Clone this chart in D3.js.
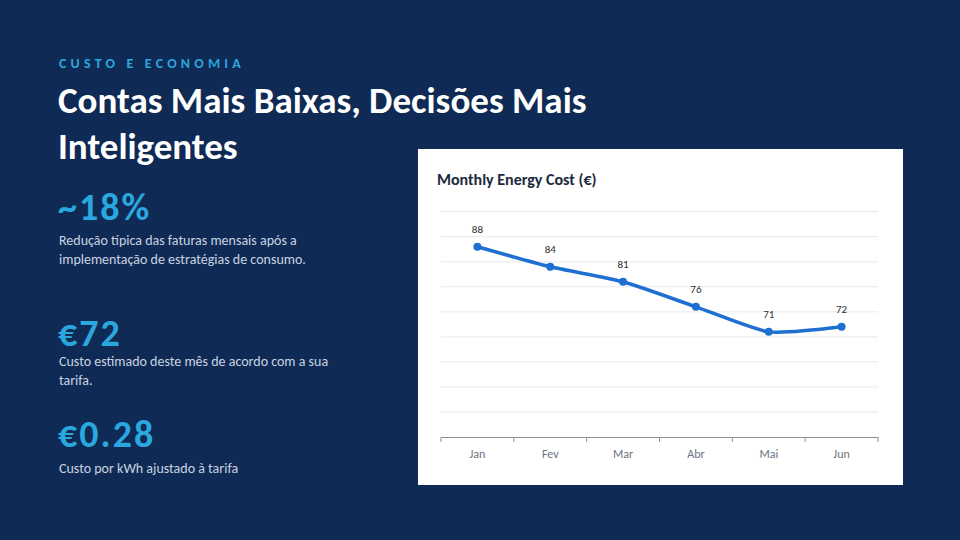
<!DOCTYPE html>
<html><head><meta charset="utf-8">
<script src="https://cdn.jsdelivr.net/npm/d3@7"></script>
<style>
body{margin:0;background:#0f2a54;}
svg{display:block;font-family:Calibri,Carlito,"Open Sans",sans-serif;}
</style></head>
<body><svg id="s" width="960" height="540"></svg>
<script>
"use strict";

let months = ['Jan', 'Fev', 'Mar', 'Abr', 'Mai', 'Jun'];
let costs = [88, 84, 81, 76, 71, 72];
let yTicks = [50, 55, 60, 65, 70, 75, 80, 85, 90, 95];

let svg = d3.select('#s');
svg.append('rect').attr('width', 960).attr('height', 540).attr('fill', '#0f2a54');

// left text block
svg.append('text').attr('x', 59).attr('y', 68).text('CUSTO E ECONOMIA')
  .attr('fill', '#2aa7de').attr('font-size', 14).attr('font-weight', 700).attr('letter-spacing', 4.2);
svg.append('text').attr('x', 58).attr('y', 113).text('Contas Mais Baixas, Decisões Mais')
  .attr('fill', '#fff').attr('font-size', 37).attr('font-weight', 700);
svg.append('text').attr('x', 58).attr('y', 159).text('Inteligentes')
  .attr('fill', '#fff').attr('font-size', 37).attr('font-weight', 700);

let stats = [
  { big: '~18%', y: 220, lines: ['Redução típica das faturas mensais após a', 'implementação de estratégias de consumo.'], ly: 245 },
  { big: '€72', y: 346, lines: ['Custo estimado deste mês de acordo com a sua', 'tarifa.'], ly: 366 },
  { big: '€0.28', y: 447, lines: ['Custo por kWh ajustado à tarifa'], ly: 473 },
];
stats.forEach((s) => {
  svg.append('text').attr('x', 58).attr('y', s.y).text(s.big)
    .attr('fill', '#2aa7de').attr('font-size', 38).attr('font-weight', 700).attr('letter-spacing', 2);
  s.lines.forEach((l, i) => {
    svg.append('text').attr('x', 59).attr('y', s.ly + i * 19).text(l)
      .attr('fill', '#c9d3e0').attr('font-size', 14);
  });
});

// chart panel
svg.append('rect').attr('x', 418).attr('y', 149).attr('width', 485).attr('height', 336).attr('fill', '#fff');
svg.append('text').attr('x', 437).attr('y', 185).text('Monthly Energy Cost (€)')
  .attr('fill', '#1b2a3d').attr('font-size', 16).attr('font-weight', 700);

let x = d3.scaleBand().domain(months).range([441, 878]);
let y = d3.scaleLinear().domain([50, 95]).range([437, 211.7]);

let g = svg.append('g');
g.selectAll('line.grid').data(yTicks.slice(1)).enter().append('line')
  .attr('x1', 441).attr('x2', 878).attr('y1', (d) => y(d)).attr('y2', (d) => y(d))
  .attr('stroke', '#e6e9ee').attr('stroke-width', 1);

let xAxis = g.append('g').attr('transform', 'translate(0,437)')
  .call(d3.axisBottom(x).tickSize(0).tickPadding(12));
xAxis.select('.domain').attr('stroke', '#8a8f96');
xAxis.selectAll('text').attr('fill', '#6b7280').attr('font-size', 12)
  .attr('font-family', 'Calibri,Carlito,"Open Sans",sans-serif');
// boundary ticks
xAxis.selectAll('line.b').data(d3.range(months.length + 1)).enter().append('line')
  .attr('x1', (i) => 441 + i * x.bandwidth()).attr('x2', (i) => 441 + i * x.bandwidth())
  .attr('y1', 0).attr('y2', 5).attr('stroke', '#8a8f96');

let pts = months.map((m, i) => [x(m) + x.bandwidth() / 2, y(costs[i])]);
g.append('path').attr('d', d3.line().curve(d3.curveCardinal.tension(0.4))(pts))
  .attr('fill', 'none').attr('stroke', '#1f6fd1').attr('stroke-width', 3.5);
g.selectAll('circle').data(pts).enter().append('circle')
  .attr('cx', (d) => d[0]).attr('cy', (d) => d[1]).attr('r', 4).attr('fill', '#1f6fd1');
g.selectAll('text.lbl').data(pts).enter().append('text')
  .attr('x', (d) => d[0]).attr('y', (d, i) => d[1] - 14).attr('text-anchor', 'middle')
  .attr('font-size', 11).attr('fill', '#2b2f36').text((d, i) => costs[i]);
</script></body></html>
